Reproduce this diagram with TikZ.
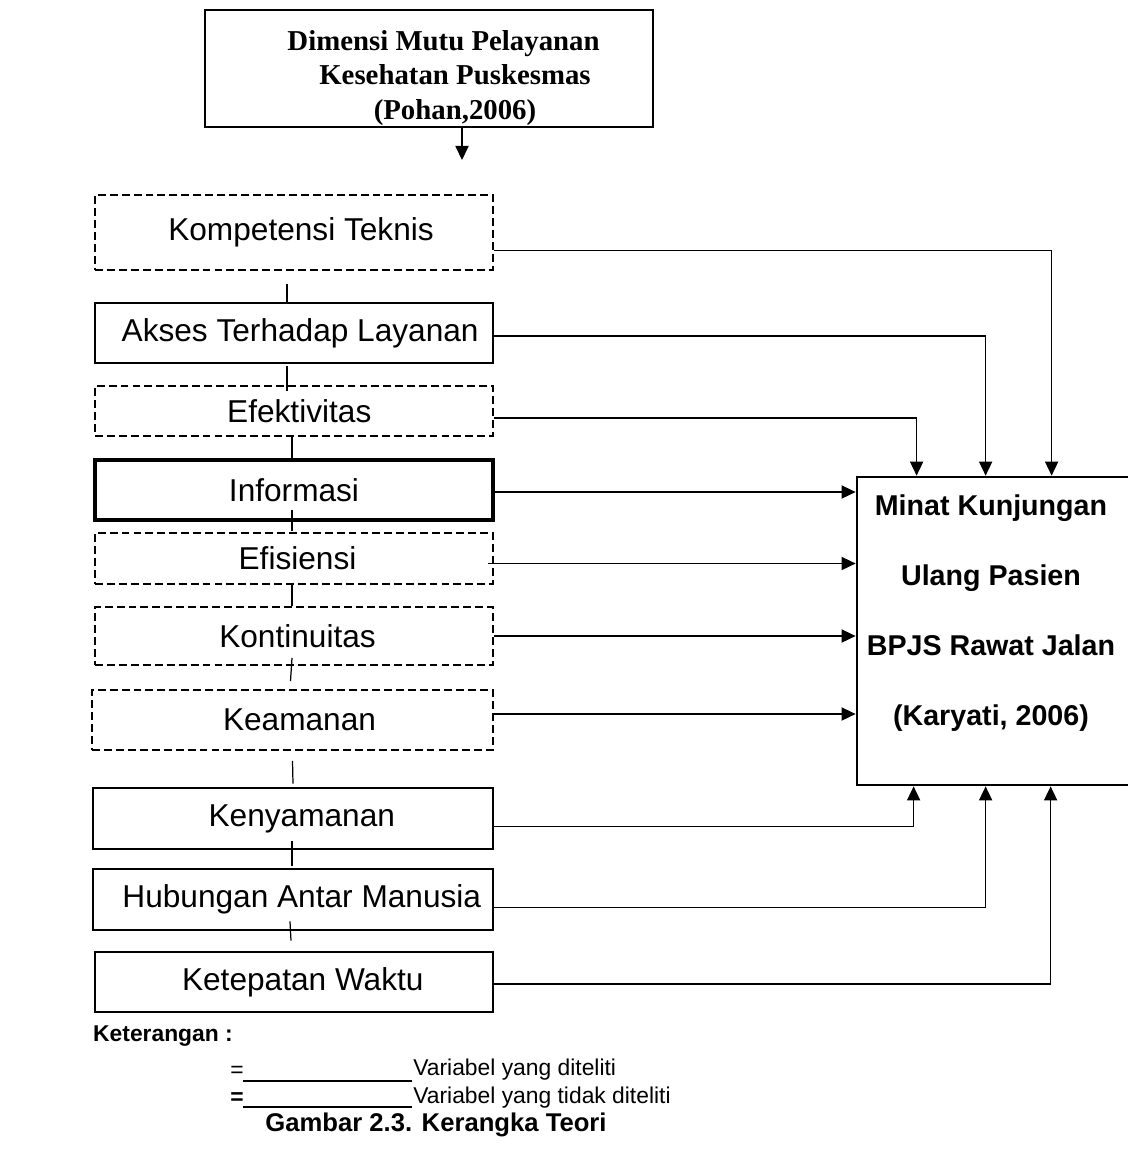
\documentclass[tikz,border=0pt]{standalone}
\usepackage{fontspec}
\setmainfont{Liberation Sans}
\newfontfamily\serifbf{Liberation Serif}
\usetikzlibrary{arrows.meta,calc}

\tikzset{
  var/.style={draw, line width=1.6pt, minimum width=7.96cm, minimum height=1.2cm, inner sep=0pt, font=\fontsize{18}{20}\selectfont},
  novar/.style={var, line width=1.1pt, dash pattern=on 4.5pt off 2.3pt},
  stub/.style={line width=0.7pt},
  link/.style={line width=0.75pt, ->},
}

\begin{document}
\begin{tikzpicture}[x=0.02cm, y=-0.02cm, >={Triangle[length=8pt,width=7.5pt]}]
        \useasboundingbox (0,0) rectangle (1127,1150);

        % Source box
        \node[draw, line width=1.6pt, minimum width=8.96cm, minimum height=2.34cm] (dimensi) at (429,68.5) {};
        \node[align=center, font=\serifbf\bfseries\fontsize{16.4}{19.8}\selectfont] (dimensitext) at (455,78)
            {\hspace*{-13pt}Dimensi Mutu Pelayanan\\Kesehatan Puskesmas\\(Pohan,2006)};
        \coordinate (dimtip) at (462,160);
        \draw[link] ($(dimensi.south)+(33,0)$) -- (dimtip);

        % Dimensions
        \node[novar, minimum height=1.5cm] (kt) at (294,232.5) {\hspace*{8pt}Kompetensi Teknis};
        \node[var] (akses) at (294,333) {\hspace*{7pt}Akses Terhadap Layanan};
        \node[novar, minimum height=1.0cm] (efek) at (294,411) {\hspace*{6pt}Efektivitas};
        \node[var, line width=2.1pt] (info) at (294,490) {Informasi};
        \node[novar, minimum height=1.02cm] (efis) at (294,558.5) {\hspace*{4pt}Efisiensi};
        \node[novar, minimum height=1.16cm] (konti) at (294,636) {\hspace*{4pt}Kontinuitas};
        \node[novar, minimum width=8.02cm] (keam) at (292.5,720) {\hspace*{8pt}Keamanan};
        \node[var, minimum width=8cm, minimum height=1.22cm] (kenya) at (293,818.5) {\hspace*{10pt}Kenyamanan};
        \node[var, minimum width=8cm, minimum height=1.22cm] (hub) at (293,899.5) {\hspace*{10pt}Hubungan Antar Manusia};
        \node[var] (ketep) at (294,982) {\hspace*{10pt}Ketepatan Waktu};

        % Stubs between the boxes
        \draw[stub] ($(kt.south)+(-7,13)$) -- ($(akses.north)+(-7,0)$);
        \draw[stub] ($(akses.south)+(-7,2)$) -- ($(efek.north)+(-7,6)$);
        \draw[stub] ($(efek.south)+(-2,0)$) -- ($(info.north)+(-2,0)$);
        \draw[stub] ($(info.south)+(-2,-12)$) -- ($(efis.north)+(-2,-1)$);
        \draw[stub] ($(efis.south)+(-2,0)$) -- ($(konti.north)+(-2,0)$);
        \draw[stub] ($(konti.south)+(-2,-8)$) -- ($(keam.north)+(-2,-8)$);
        \draw[stub] ($(keam.south)+(0,10)$) -- ($(kenya.north)+(0,-3)$);
        \draw[stub] ($(kenya.south)+(-1,-9)$) -- ($(hub.north)+(-1,-2)$);
        \draw[stub] ($(hub.south)+(-3,-10)$) -- ($(ketep.north)+(-3,-10)$);

        % Target box
        \node[draw, line width=1.6pt, minimum width=5.66cm, minimum height=6.16cm] (minat) at (998.5,631) {};
        \node[align=center, font=\bfseries\fontsize{16.3}{39.7}\selectfont] (minattext) at (991,613)
            {Minat Kunjungan\\Ulang Pasien\\BPJS Rawat Jalan\\(Karyati, 2006)};
        \coordinate (n1) at ($(minat.north west)+(61,0)$);
        \coordinate (n2) at ($(minat.north west)+(130,0)$);
        \coordinate (n3) at ($(minat.north west)+(196,0)$);
        \coordinate (s1) at ($(minat.south west)+(58,0)$);
        \coordinate (s2) at ($(minat.south west)+(130,0)$);
        \coordinate (s3) at ($(minat.south west)+(195,0)$);

        % Links
        \draw[link] ($(kt.east)+(0,18)$) -| (n3);
        \draw[link] ($(akses.east)+(0,3)$) -| (n2);
        \draw[link] ($(efek.east)+(0,7)$) -| (n1);
        \draw[link] ($(info.east)+(0,2)$) -- ($(info.east -| minat.west)+(0,2)$);
        \draw[link] ($(efis.east)+(-6,5)$) -- ($(efis.east -| minat.west)+(0,5)$);
        \draw[link] (konti.east) -- (konti.east -| minat.west);
        \draw[link] ($(keam.east)+(0,-6)$) -- ($(keam.east -| minat.west)+(0,-6)$);
        \draw[link] ($(kenya.east)+(0,8)$) -| (s1);
        \draw[link] ($(hub.east)+(0,8)$) -| (s2);
        \draw[link] ($(ketep.east)+(0,2)$) -| (s3);

        % Legend
        \node[anchor=west, font=\bfseries\fontsize{13}{15}\selectfont] (ket) at (87,1036) {Keterangan :};
        \node[anchor=west, inner sep=0pt, font=\fontsize{13}{15}\selectfont] (eq1) at (230,1072) {=};
        \draw[line width=1.6pt] (243,1081) -- (412,1081);
        \node[anchor=west, inner sep=0pt, font=\fontsize{13}{15}\selectfont] (lg1) at (413,1070) {Variabel yang diteliti};
        \node[anchor=west, inner sep=0pt, font=\bfseries\fontsize{13}{15}\selectfont] (eq2) at (230,1099) {=};
        \draw[line width=1.6pt] (243,1107) -- (412,1107);
        \node[anchor=west, inner sep=0pt, font=\fontsize{13}{15}\selectfont] (lg2) at (413,1098) {Variabel yang tidak diteliti};
        \node[font=\bfseries\fontsize{14.6}{17}\selectfont] (cap) at (436,1125) {Gambar 2.3. Kerangka Teori};
\end{tikzpicture}
\end{document}
